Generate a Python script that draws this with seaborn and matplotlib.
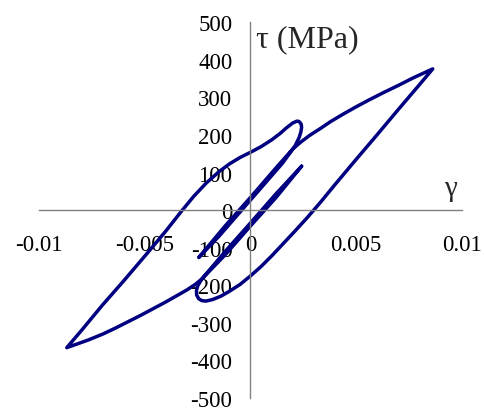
import numpy as np
import pandas as pd
import seaborn as sns
import matplotlib.pyplot as plt

# Shear stress-strain history (gamma, tau in MPa)
q_down_gamma = [0.00242, 0.0012, 0.0, -0.0012, -0.0023]
q_down_tau = [117, 33, -42, -119, -183]

big_lower_gamma = [-0.0026, -0.0030, -0.0035, -0.0040, -0.0046, -0.0052, -0.0058, -0.0064, -0.0070, -0.0077, -0.0087]
big_lower_tau = [-197, -212, -228, -244, -262, -280, -297, -314, -330, -346, -366]

left_up_gamma = [-0.0080, -0.0070, -0.0060, -0.0050, -0.0040, -0.0033, -0.0027, -0.0021, -0.0015,
                 -0.0010, -0.0005, 0.0, 0.0005, 0.0010, 0.0014, 0.0017, 0.0020, 0.0022, 0.0023,
                 0.0024, 0.00242, 0.00238, 0.0023, 0.0021]
left_up_tau = [-320, -252, -188, -122, -55, -5, 36, 72, 102,
               123, 140, 154, 169, 187, 204, 219, 232, 237, 236,
               229, 220, 207, 193, 170]

p_down_gamma = [0.0015, 0.0, -0.0015, -0.00245]
p_down_tau = [124, 27, -70, -126]

p_up_gamma = [-0.0012, 0.0, 0.0012, 0.00202]
p_up_tau = [-42, 34, 112, 164]

big_upper_gamma = [0.0024, 0.0028, 0.0033, 0.0038, 0.0044, 0.0050, 0.0056, 0.0063, 0.0070, 0.0077, 0.00863]
big_upper_tau = [182, 199, 217, 236, 256, 275, 293, 313, 332, 352, 376]

right_down_gamma = [0.0080, 0.0070, 0.0060, 0.0050, 0.0040, 0.0033, 0.0027, 0.0021, 0.0015, 0.0010,
                    0.0005, 0.0, -0.0005, -0.0010, -0.0014, -0.0018, -0.0021, -0.0023, -0.00245,
                    -0.00255, -0.00256, -0.0025, -0.0024, -0.0023]
right_down_tau = [334, 268, 201, 135, 68, 20, -19, -56, -92, -122,
                  -150, -175, -198, -216, -229, -238, -242, -241, -236,
                  -226, -214, -202, -192, -183]

q_up_gamma = [-0.0012, 0.0, 0.0012, 0.00242]
q_up_tau = [-110, -34, 43, 117]

x_ticks = [-0.01, -0.005, 0, 0.005, 0.01]
x_labels = ['-0.01', '-0.005', '0', '0.005', '0.01']
y_ticks = [-500, -400, -300, -200, -100, 0, 100, 200, 300, 400, 500]
y_labels = ['-500', '-400', '-300', '-200', '-100', '0', '100', '200', '300', '400', '500']

# one continuous path in loading order
gamma = np.concatenate([q_down_gamma, big_lower_gamma, left_up_gamma, p_down_gamma,
                        p_up_gamma, big_upper_gamma, right_down_gamma, q_up_gamma])
tau = np.concatenate([q_down_tau, big_lower_tau, left_up_tau, p_down_tau,
                      p_up_tau, big_upper_tau, right_down_tau, q_up_tau])
df = pd.DataFrame({'gamma': gamma, 'tau': tau})

sns.set_style('white')
plt.rcParams['font.family'] = ['Liberation Serif', 'DejaVu Serif']
plt.rcParams['axes.unicode_minus'] = False

fig = plt.figure(figsize=(4.85, 4.1), dpi=100)
ax = fig.add_axes([39.3 / 485, 1 - 399 / 410, (461.7 - 39.3) / 485, (399 - 23.3) / 410])
ax.set_facecolor('none')

sns.lineplot(data=df, x='gamma', y='tau', sort=False, estimator=None, color='#000080',
             linewidth=2.5, solid_joinstyle='round', solid_capstyle='round', ax=ax)

ax.set_xlim(-0.01, 0.01)
ax.set_ylim(-500, 500)
for side in ['top', 'right']:
    ax.spines[side].set_visible(False)
for side in ['left', 'bottom']:
    ax.spines[side].set_position(('data', 0))
    ax.spines[side].set_color('#808080')
    ax.spines[side].set_linewidth(1.0)

ax.set_xticks(x_ticks)
ax.set_xticklabels(x_labels)
ax.set_yticks(y_ticks)
ax.set_yticklabels(y_labels)
ax.tick_params(axis='both', direction='out', length=6, width=1, color='#808080',
               labelsize=16.5, labelcolor='black')
ax.tick_params(axis='x', pad=11)
ax.tick_params(axis='y', pad=7)
ax.set_xlabel('')
ax.set_ylabel('')

ax.text(0.00025, 436, 'τ (MPa)', fontsize=23, ha='left', va='baseline')
ax.text(0.00945, 39, 'γ', fontsize=21, ha='center', va='baseline')

fig.savefig('out.png', dpi=100)
